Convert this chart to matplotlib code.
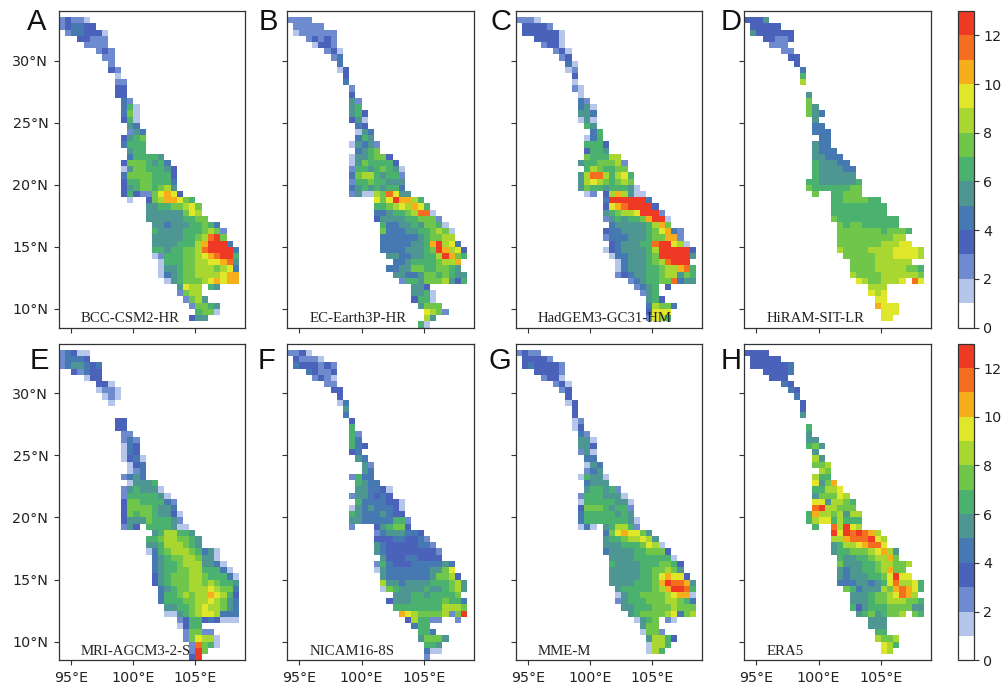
import numpy as np
import matplotlib
matplotlib.use('Agg')
import matplotlib.pyplot as plt
from matplotlib.colors import ListedColormap, BoundaryNorm
from matplotlib.cm import ScalarMappable

# grid is 0.5 deg, rows go north to south. each row is "first column:level codes"
# code k (hex) means value in bin [k, k+1), '.' means no data
lon_edges = np.arange(94, 109.5, 0.5)
lat_edges = np.arange(34, 8.0, -0.5)

names = ['BCC-CSM2-HR', 'EC-Earth3P-HR', 'HadGEM3-GC31-HM', 'HiRAM-SIT-LR',
         'MRI-AGCM3-2-S', 'NICAM16-8S', 'MME-M', 'ERA5']
letters = ['A', 'B', 'C', 'D', 'E', 'F', 'G', 'H']

bcc = ["", "0:23221", "0:234433", "1:2443331", "3:33222", "4:2222", "6:232", "7:22", "8:2", "8:32",
       "9:1", "9:22", "9:33", "9:33", "10:42", "10:461", "10:471", "10:361", "11:54", "11:254",
       "10:3567", "10:4666", "11:566", "11:466665", "10:37776564", "10:157766653", "10:477776663",
       "10:366776664", "10:356776785", "10:3632279a93", "11:1..378aa976", "14:556677897",
       "14:555555798", "14:5555556677", "15:55455566764", "15:655556667872", "15:555556678bc7",
       "15:55556668accc4", "15:66566778bcccc4", "15:126667789abcc6", "16:1666778899ab5",
       "16:1556778887894", "16:14567788889aa", "17:15677789a9aa", "19:5988.65", "19:2788",
       "20:2785", "21:27765", "22:6771", "21:355", ""]

ecearth = ["", "0:2222", "1:22222", "1:1222222", "3:23232", "4:1332", "6:231", "7:24", "8:4", "8:13",
           "9:3", "9:4", "10:2", "10:3", "10:52", "10:56", "10:563", "10:351", "11:43", "11:154",
           "11:465", "10:15452", "11:4567", "10:1556773", "10:15766663", "10:266567651",
           "10:478865662", "10:266766555", "10:456565664", "10:251187b955", "14:979caa86",
           "14:667898a96", "14:4456678bb1", "14:35555667772", "15:64455657761", "15:744455667871",
           "15:444444567788", "15:44444556ac894", "15:444455567ca893", "16:554455668ca76",
           "17:4456666788a", "16:445577667765", "17:554457767655", "18:26657778536", "20:553",
           "20:5561", "20:3661", "21:5777", "22:9872", "22:85", "21:61"]

hadgem = ["", "0:2221", "1:33332", "1:3333331", "3:33331", "4:2331", "6:231", "7:23", "8:41", "8:12",
          "9:3", "9:1", "9:21", "10:1", "10:42", "10:451", "10:554", "10:151", "11:65", "12:46",
          "11:146", "11:6663", "11:3665", "11:766688", "10:56677782", "11:6876677", "10:58bb86896",
          "10:589876787", "10:5766566651", "11:12.38a8511", "14:4cccccc4", "14:39abcccc3",
          "14:567889ccc2", "14:2565667acc1", "15:45555568a7", "14:3445555679a42", "14:2444555677aa2",
          "15:3455566bcc981", "14:134555568ccccc3", "15:14455567ccccc5", "16:14555678bccc",
          "16:1455566788ab6", "16:2345566788576", "18:2456677b455", "19:2456.3", "20:256", "21:563",
          "21:48774", "21:3999", "21:2986", ""]

hiram = ["", "0:3335", "1:33333", "1:5333333", "3:33223", "4:222", "6:22", "7:33", "8:3", "9:4",
         "9:6", "9:8", "", "10:5", "10:7", "10:75", "10:754", "11:5", "11:44", "11:444", "12:44",
         "11:544", "11:5444", "11:55444", "11:655544", "11:6555544", "11:6555555", "10:665555556",
         "10:766666677", "11:7..66777", "14:66777766", "14:666666666", "14:666666666", "14:76666666666",
         "15:7677666666", "15:777777767776", "15:77777777788", "15:777777788899", "15:87777888899998",
         "16:7777788899998", "17:7777888888", "17:777788888776", "17:877778888887", "18:98778889.b9",
         "20:888", "20:989", "21:99", "21:a999", "22:999", "22:99", ""]

mri = ["", "0:24311", "0:24443", "0:2455434", "2:32433", "4:133", "6:331", "6:1221", "7:121", "8:1",
       "", "", "9:33", "9:33", "10:22", "10:242", "10:143", "10:143", "10:1341", "11:134", "11:124",
       "10:2454", "11:15556", "10:2565551", "10:26666651", "10:377666642", "10:377776554",
       "10:3767765531", "10:3555766652", "10:253.6666511", "15:5688665", "14:667887765", "14:556888765",
       "14:146788876451", "15:45677887551", "15:456678885541", "15:4566778866641", "15:35677788766641",
       "15:35677788787665", "16:4567788898774", "16:46678788a9863", "16:4666778898754",
       "17:556678988754", "17:115678998444", "19:2366343111", "19:1366", "20:27722", "20:279881",
       "21:2b761", "21:2c7", "21:3c"]

nicam = ["", "0:2231", "1:32221", "1:4333232", "3:43223", "4:2321", "6:22", "7:33", "8:3", "8:14",
         "9:5", "9:4", "10:3", "10:6", "10:62", "10:64", "10:643", "10:34", "11:54", "12:52", "12:54",
         "10:2644", "11:6544", "11:554431", "10:2554343", "11:64444331", "10:154544431", "10:654445433",
         "10:5544444662", "10:2...356773", "14:24555443", "14:333443342", "14:5433333442",
         "14:54333333332", "15:5333443333", "14:2643334444454", "14:1544444445579", "15:5444444457783",
         "15:85545555666785", "15:17655556556785", "17:55566566667", "16:3555666667664",
         "17:666666668887", "18:a987777827c", "19:386622..2", "20:466", "21:664", "21:57775", "22:665",
         "22:411", "22:2"]

mme = ["", "0:2322", "1:33332", "1:3433332", "3:33332", "4:2331", "6:231", "7:23", "8:3", "8:13",
       "9:3", "9:3", "9:12", "9:13", "10:42", "10:551", "10:553", "10:251", "11:44", "11:154", "11:245",
       "10:16551", "11:4555", "11:566562", "10:26665551", "10:166666551", "10:377765662", "10:466666565",
       "10:4666666651", "10:141.568862", "14:479a9975", "14:566788985", "14:5556667981", "14:45555667773",
       "15:55556666661", "15:655556667763", "15:555556677875", "15:555556679a993", "15:55556667acbba5",
       "16:56666678accb6", "16:1566777789aa1", "16:2566677788764", "17:556667778777", "18:56777789478",
       "19:1567.21", "20:577", "20:1772", "21:58863", "21:1886", "21:186", ""]

era5 = ["", "0:3333", "1:33333", "1:3333334", "3:33334", "4:333", "6:43", "7:43", "8:4", "9:3",
        "9:3", "9:5", "", "10:6", "10:5", "10:55", "10:675", "11:5", "11:85", "11:778", "12:87",
        "11:866", "11:957a", "11:66889", "11:577798", "11:9958876", "11:bc88777", "10:6a8878588",
        "10:689968666", "11:6..b8c98", "14:c9cbcba8", "14:88abbbc98", "14:56889abb9", "14:56677789a85",
        "15:65566788a7", "15:755566788778", "15:54556678a77", "15:545556679c99", "15:444554569b8896",
        "16:76455587aba96", "17:55567789ba8", "17:555677888776", "17:635666777755", "18:56756778.76",
        "20:555", "20:555", "21:66", "21:8778", "22:986", "22:98", ""]

panels = [bcc, ecearth, hadgem, hiram, mri, nicam, mme, era5]

level_colors = ['#ffffff', '#b6c6ea', '#6e8bcf', '#4a62b9', '#4679b2', '#4d9691', '#4ab16f',
                '#6fc64b', '#a9d732', '#e0e72b', '#f7ae1c', '#f56e1f', '#ee3a24']
levels = np.arange(0, 14)
cmap = ListedColormap(level_colors)
norm = BoundaryNorm(levels, cmap.N)


def parse(rows):
    z = np.full((len(rows), 30), np.nan)
    for i, r in enumerate(rows):
        if not r:
            continue
        start, codes = r.split(':')
        for j, c in enumerate(codes):
            if c != '.':
                z[i, int(start) + j] = int(c, 16) + 0.5
    return np.ma.masked_invalid(z)


W, H = 1005, 684
plt.rcParams['font.family'] = 'DejaVu Sans'
plt.rcParams['axes.edgecolor'] = '#333333'
plt.rcParams['xtick.color'] = '#333333'
plt.rcParams['ytick.color'] = '#333333'
plt.rcParams['xtick.labelcolor'] = '#222222'
plt.rcParams['ytick.labelcolor'] = '#222222'
plt.rcParams['text.color'] = '#222222'

fig = plt.figure(figsize=(W / 100, H / 100), dpi=100)


def box(x0, x1, y0, y1):
    # pixel box (from top left) to figure fractions
    return [x0 / W, 1 - y1 / H, (x1 - x0) / W, (y1 - y0) / H]


lefts = [58.7, 287.0, 515.7, 744.0]
tops = [11.0, 343.7]
letter_x = [27, 259, 490, 721, 30, 258, 488, 721]
letter_y = [30, 369]

for k, rows in enumerate(panels):
    col, row = k % 4, k // 4
    ax = fig.add_axes(box(lefts[col], lefts[col] + 186.5, tops[row], tops[row] + 316.5))
    ax.pcolormesh(lon_edges, lat_edges, parse(rows), cmap=cmap, norm=norm, antialiased=True, linewidth=0)
    ax.set_xlim(94, 109)
    ax.set_ylim(8.5, 34)
    ax.set_xticks([95, 100, 105])
    ax.set_yticks([10, 15, 20, 25, 30])
    ax.set_xticklabels(['95°E', '100°E', '105°E'] if row == 1 else [])
    ax.set_yticklabels([f'{v}°N' for v in [10, 15, 20, 25, 30]] if col == 0 else [])
    ax.tick_params(labelsize=10.3, length=3.5, width=0.8, pad=4)
    for s in ax.spines.values():
        s.set_linewidth(0.9)
    ax.text(95.8, 8.95, names[k], family='Liberation Serif', fontsize=10.7, color='#222222')
    fig.text(letter_x[k] / W, 1 - letter_y[row] / H, letters[k], family='Liberation Sans',
             fontsize=21, color='#111111')

for t in tops:
    cax = fig.add_axes(box(958.3, 974.3, t, t + 316.5))
    cb = fig.colorbar(ScalarMappable(norm=norm, cmap=cmap), cax=cax, ticks=np.arange(0, 13, 2),
                      spacing='proportional', drawedges=False)
    cb.ax.tick_params(labelsize=10.3, length=3.5, width=0.8, pad=3)
    cb.ax.minorticks_off()
    cb.outline.set_linewidth(0.9)

fig.savefig('out.png', dpi=100)
